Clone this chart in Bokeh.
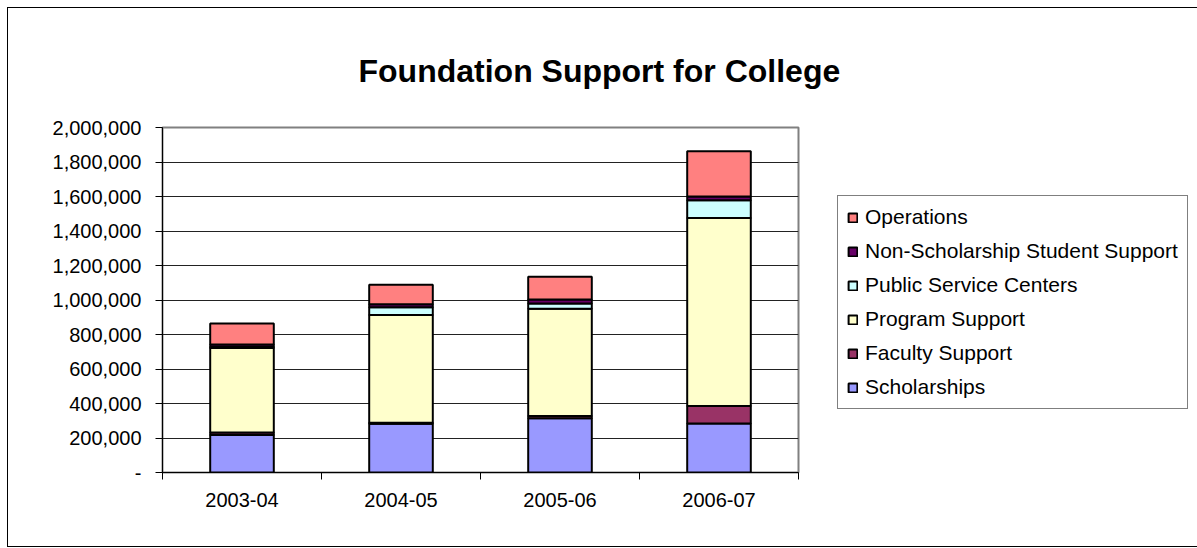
from bokeh.plotting import figure
from bokeh.models import (FactorRange, Range1d, LinearAxis, CategoricalAxis, FixedTicker,
                          NumeralTickFormatter, Legend, LegendItem, Grid, ColumnDataSource)
from bokeh.embed import file_html
from bokeh.resources import INLINE

# ---- data ----
years = ["2003-04", "2004-05", "2005-06", "2006-07"]
scholarships = [218000, 282000, 315000, 284000]
faculty_support = [14000, 6000, 12000, 102000]
program_support = [490000, 625000, 622000, 1090000]
public_service_centers = [6000, 45000, 30000, 102000]
non_scholarship_support = [14000, 17000, 24000, 22000]
operations = [122000, 113000, 132000, 262000]

series_names = ["Scholarships", "Faculty Support", "Program Support",
                "Public Service Centers", "Non-Scholarship Student Support", "Operations"]
series_keys = ["scholarships", "faculty", "program", "psc", "nss", "ops"]
colors = ["#9999FF", "#993366", "#FFFFCC", "#CCFFFF", "#660066", "#FF8080"]
y_ticks = list(range(0, 2000001, 200000))

source = ColumnDataSource(dict(
    years=years, scholarships=scholarships, faculty=faculty_support, program=program_support,
    psc=public_service_centers, nss=non_scholarship_support, ops=operations))

FONT = "Liberation Sans"

p = figure(x_range=FactorRange(*years), y_range=Range1d(0, 2000000),
           title="Foundation Support for College",
           frame_width=636, frame_height=345, output_backend="svg", toolbar_location=None,
           x_axis_location=None, y_axis_location=None,
           min_border_left=154, min_border_right=397, min_border_top=119, min_border_bottom=74)
p.styles = {"border": "1px solid black", "margin": "7px 0px 0px 7px"}
p.center = [r for r in p.center if not isinstance(r, Grid)]
p.outline_line_color = "#808080"
p.outline_line_width = 2
p.background_fill_color = "white"
p.border_fill_color = "white"

p.title.text_font = FONT
p.title.text_font_size = "32px"
p.title.text_font_style = "bold"
p.title.text_color = "black"
p.title.align = "left"
p.title.offset = 196
p.title.standoff = 78

# y axis
yaxis = LinearAxis(ticker=FixedTicker(ticks=y_ticks), formatter=NumeralTickFormatter(format="0,0"),
                   major_label_overrides={0: "-"}, major_tick_out=7, major_tick_in=0,
                   minor_tick_out=0, minor_tick_in=0, major_label_standoff=14,
                   axis_line_color="black", axis_line_width=1, major_tick_line_color="black",
                   major_label_text_font=FONT, major_label_text_font_size="20px",
                   major_label_text_color="black")
p.add_layout(yaxis, "left")
p.add_layout(Grid(dimension=1, ticker=yaxis.ticker, grid_line_color="#222222", grid_line_width=1))

# x boundary ticks axis (synthetic category coordinates: boundaries between categories)
tick_axis = LinearAxis(ticker=FixedTicker(ticks=list(range(len(years) + 1))),
                       major_tick_out=7, major_tick_in=0, minor_tick_out=0, minor_tick_in=0,
                       major_label_text_font_size="0px", major_label_standoff=0,
                       major_label_overrides={i: "" for i in range(len(years) + 1)},
                       axis_line_color="black", major_tick_line_color="black")
p.add_layout(tick_axis, "below")
cat_axis = CategoricalAxis(axis_line_color=None, major_tick_line_color=None,
                           major_tick_out=0, major_tick_in=0, major_label_standoff=13,
                           major_label_text_font=FONT, major_label_text_font_size="20px",
                           major_label_text_color="black")
p.add_layout(cat_axis, "below")

renderers = p.vbar_stack(series_keys, x="years", width=0.4, color=colors,
                         line_color="black", line_width=2, source=source)

items = [LegendItem(label=n, renderers=[r]) for n, r in zip(series_names, renderers)][::-1]
legend = Legend(items=items, location=(39, 63), border_line_color="black", border_line_width=1,
                background_fill_color="white", background_fill_alpha=1,
                label_text_font=FONT, label_text_font_size="21px", label_text_color="black",
                glyph_width=11, glyph_height=11, label_standoff=7, label_height=24,
                spacing=10, padding=9, margin=0)
p.add_layout(legend, "right")

open("out.html", "w").write(file_html(p, INLINE))
